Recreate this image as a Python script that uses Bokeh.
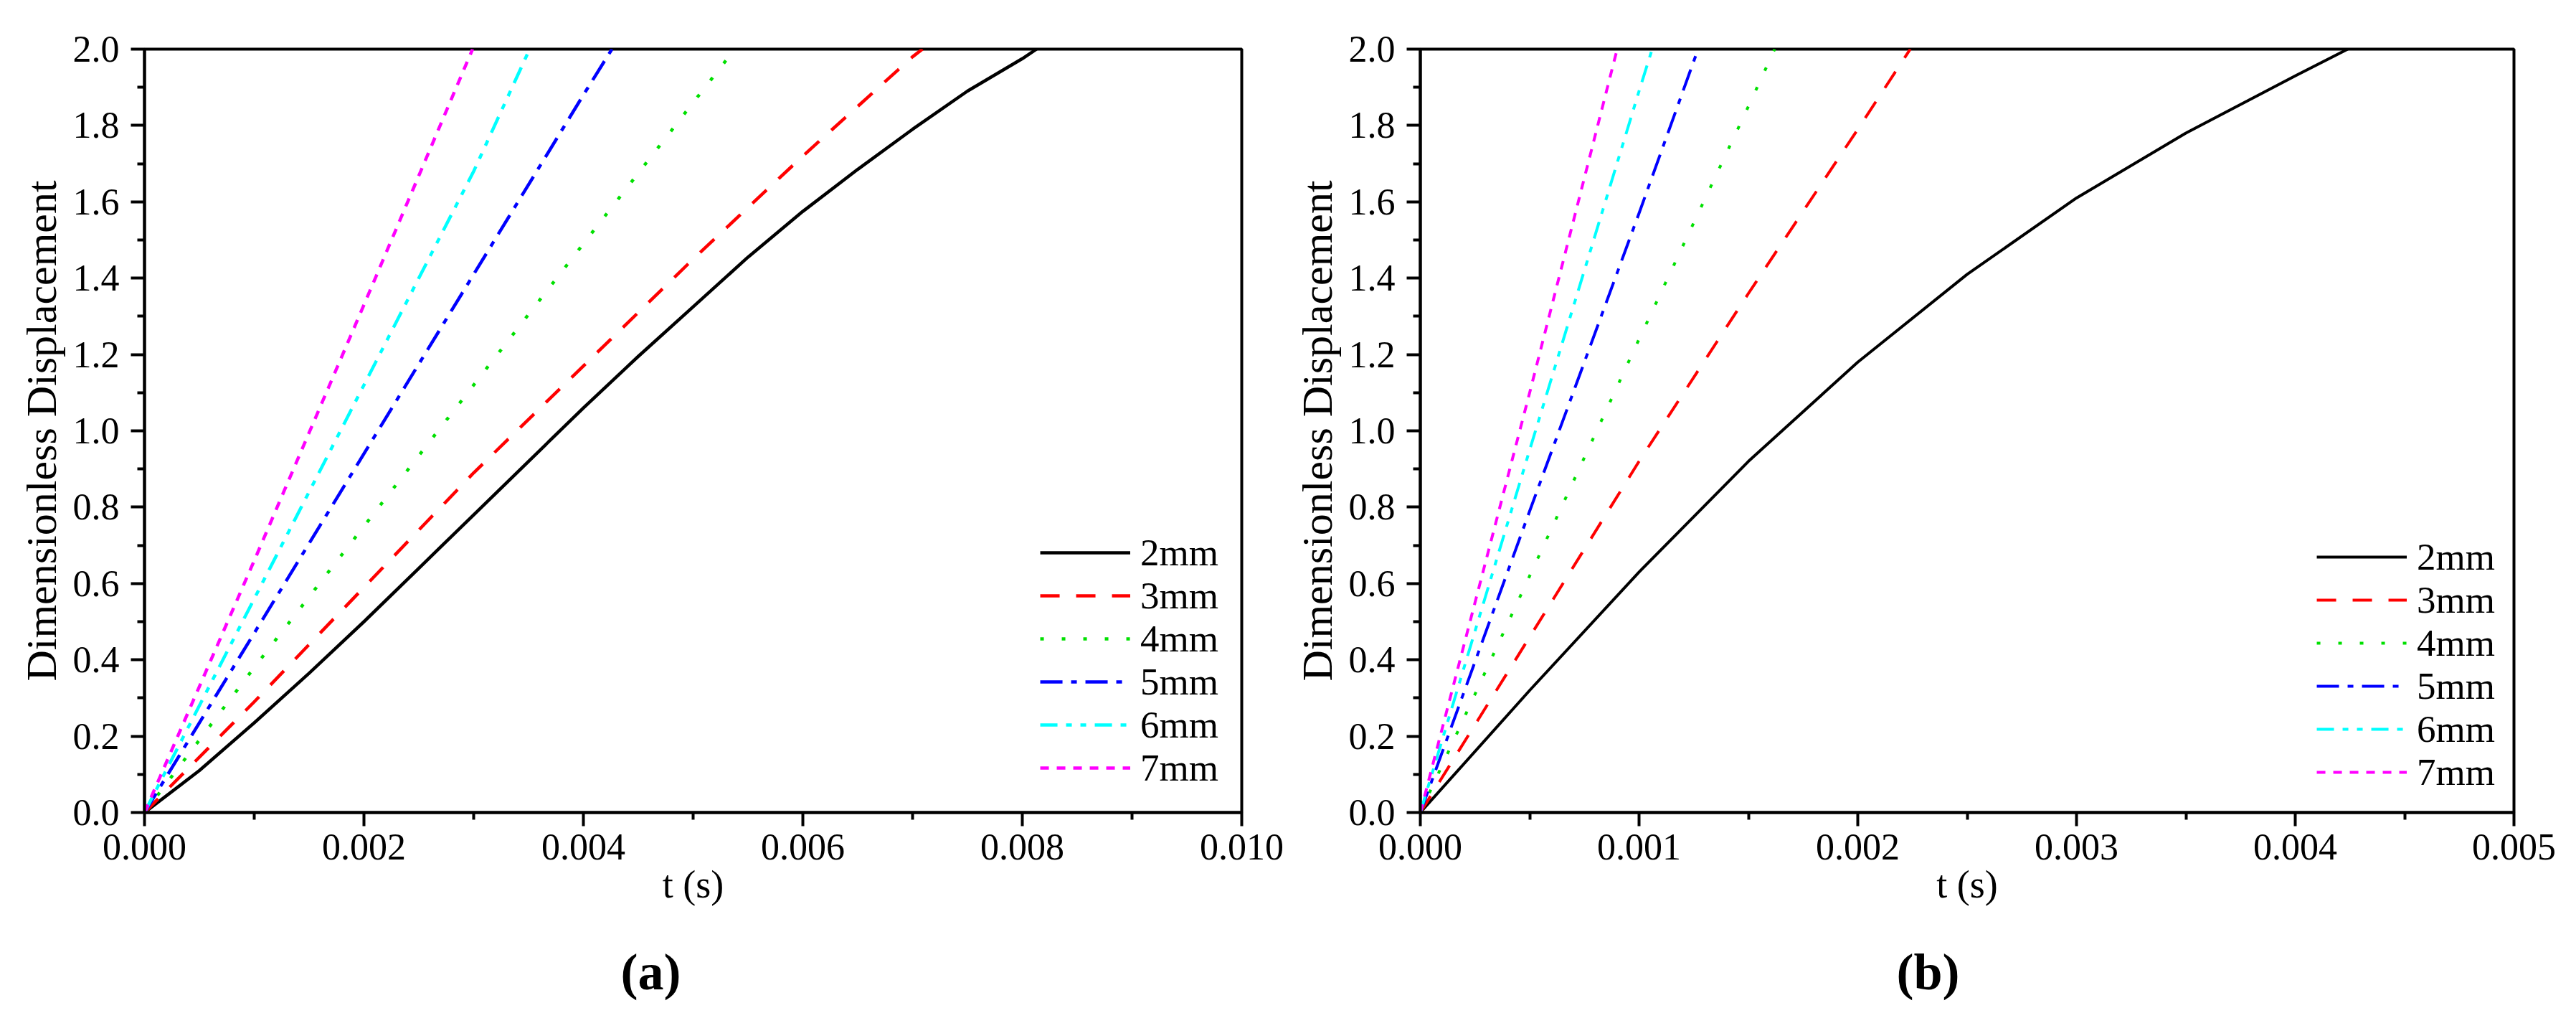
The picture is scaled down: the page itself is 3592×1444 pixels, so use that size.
from bokeh.plotting import figure
from bokeh.layouts import row
from bokeh.models import FixedTicker, NumeralTickFormatter, Range1d, Title
from bokeh.embed import file_html
from bokeh.resources import INLINE

# ---------------- data ----------------
series_names = ["2mm", "3mm", "4mm", "5mm", "6mm", "7mm"]
series_colors = ["#000000", "#ff0000", "#00e000", "#0000ff", "#00ffff", "#ff00ff"]
series_dashes = ["solid", "27 23", "5 25", "31 12 8 12", "24 12 8 12 8 12", "12 11"]

# panel (a)
a_t_2mm = [0.0, 0.0005, 0.001, 0.0015, 0.002, 0.0025, 0.003, 0.0035, 0.004, 0.0045,
           0.005, 0.0055, 0.006, 0.0065, 0.007, 0.0075, 0.008, 0.00813]
a_y_2mm = [0.0, 0.11, 0.235, 0.365, 0.50, 0.64, 0.78, 0.92, 1.06, 1.195,
           1.325, 1.455, 1.575, 1.685, 1.79, 1.89, 1.975, 2.0]
a_t_3mm = [0.0, 0.001, 0.002, 0.003, 0.004, 0.005, 0.006, 0.007, 0.00709]
a_y_3mm = [0.0, 0.29, 0.59, 0.89, 1.17, 1.45, 1.72, 1.98, 2.0]
a_t_4mm = [0.0, 0.001, 0.002, 0.003, 0.004, 0.005, 0.00538]
a_y_4mm = [0.0, 0.38, 0.75, 1.12, 1.49, 1.86, 2.0]
a_t_5mm = [0.0, 0.001, 0.002, 0.003, 0.004, 0.00426]
a_y_5mm = [0.0, 0.47, 0.94, 1.41, 1.88, 2.0]
a_t_6mm = [0.0, 0.001, 0.002, 0.003, 0.00351]
a_y_6mm = [0.0, 0.56, 1.12, 1.68, 2.0]
a_t_7mm = [0.0, 0.001, 0.002, 0.00299]
a_y_7mm = [0.0, 0.66, 1.33, 2.0]

# panel (b)
b_t_2mm = [0.0, 0.0005, 0.001, 0.0015, 0.002, 0.0025, 0.003, 0.0035, 0.004, 0.00424]
b_y_2mm = [0.0, 0.32, 0.63, 0.92, 1.18, 1.41, 1.61, 1.78, 1.93, 2.0]
b_t_3mm = [0.0, 0.0005, 0.001, 0.0015, 0.002, 0.00224]
b_y_3mm = [0.0, 0.46, 0.92, 1.36, 1.79, 2.0]
b_t_4mm = [0.0, 0.0005, 0.001, 0.0015, 0.00162]
b_y_4mm = [0.0, 0.62, 1.24, 1.85, 2.0]
b_t_5mm = [0.0, 0.0005, 0.001, 0.00127]
b_y_5mm = [0.0, 0.79, 1.57, 2.0]
b_t_6mm = [0.0, 0.0005, 0.001, 0.00106]
b_y_6mm = [0.0, 0.95, 1.89, 2.0]
b_t_7mm = [0.0, 0.0005, 0.00090]
b_y_7mm = [0.0, 1.10, 2.0]

a_series = [(a_t_2mm, a_y_2mm), (a_t_3mm, a_y_3mm), (a_t_4mm, a_y_4mm),
            (a_t_5mm, a_y_5mm), (a_t_6mm, a_y_6mm), (a_t_7mm, a_y_7mm)]
b_series = [(b_t_2mm, b_y_2mm), (b_t_3mm, b_y_3mm), (b_t_4mm, b_y_4mm),
            (b_t_5mm, b_y_5mm), (b_t_6mm, b_y_6mm), (b_t_7mm, b_y_7mm)]

y_major = [0.0, 0.2, 0.4, 0.6, 0.8, 1.0, 1.2, 1.4, 1.6, 1.8, 2.0]
y_minor = [0.1, 0.3, 0.5, 0.7, 0.9, 1.1, 1.3, 1.5, 1.7, 1.9]
a_x_major = [0.0, 0.002, 0.004, 0.006, 0.008, 0.010]
a_x_minor = [0.001, 0.003, 0.005, 0.007, 0.009]
b_x_major = [0.0, 0.001, 0.002, 0.003, 0.004, 0.005]
b_x_minor = [0.0005, 0.0015, 0.0025, 0.0035, 0.0045]

x_label = "t (s)"
y_label = "Dimensionless Displacement"

FONT = "Liberation Serif"


def make_panel(series, x_end, x_major, x_minor, caption, borders, legend_margin, lw):
    bl, br, bt, bb = borders
    p = figure(width=1796, height=1444, output_backend="svg", toolbar_location=None,
               x_range=Range1d(0, x_end), y_range=Range1d(0, 2.0),
               min_border_left=bl, min_border_right=br,
               min_border_top=bt, min_border_bottom=bb)
    p.background_fill_color = "white"
    p.border_fill_color = "white"
    p.xgrid.visible = False
    p.ygrid.visible = False
    p.outline_line_color = "black"
    p.outline_line_width = 4

    for (t, y), name, col, dash in zip(series, series_names, series_colors, series_dashes):
        p.line(t, y, line_color=col, line_width=lw, line_dash=dash, legend_label=name,
               line_join="round")

    p.xaxis.ticker = FixedTicker(ticks=x_major, minor_ticks=x_minor)
    p.yaxis.ticker = FixedTicker(ticks=y_major, minor_ticks=y_minor)
    p.xaxis.formatter = NumeralTickFormatter(format="0.000")
    p.yaxis.formatter = NumeralTickFormatter(format="0.0")
    p.xaxis.axis_label = x_label
    p.yaxis.axis_label = y_label

    for ax in (p.xaxis[0], p.yaxis[0]):
        ax.axis_line_width = 4
        ax.axis_line_color = "black"
        ax.major_tick_line_width = 4
        ax.minor_tick_line_width = 4
        ax.major_tick_line_color = "black"
        ax.minor_tick_line_color = "black"
        ax.major_tick_out = 19
        ax.major_tick_in = 0
        ax.minor_tick_out = 10
        ax.minor_tick_in = 0
        ax.major_label_text_font = FONT
        ax.major_label_text_font_size = "52px"
        ax.major_label_text_color = "black"
        ax.axis_label_text_font = FONT
        ax.axis_label_text_font_size = "54px"
        ax.axis_label_text_font_style = "normal"
        ax.axis_label_text_color = "black"
    p.yaxis.axis_label_text_font_size = "60px"
    p.xaxis.major_label_standoff = 11
    p.xaxis.axis_label_standoff = 2
    p.yaxis.major_label_standoff = 16
    p.yaxis.axis_label_standoff = 8

    lg = p.legend[0]
    lg.location = "bottom_right"
    lg.margin = legend_margin
    lg.padding = 0
    lg.spacing = -5
    lg.glyph_width = 126
    lg.glyph_height = 50
    lg.label_height = 50
    lg.label_standoff = 14
    lg.label_text_font = FONT
    lg.label_text_font_size = "53px"
    lg.label_text_color = "black"
    lg.background_fill_alpha = 0
    lg.border_line_alpha = 0

    cap = Title(text=caption, align="left", offset=664, standoff=94,
                text_font=FONT, text_font_size="72px", text_font_style="bold",
                text_color="black")
    p.add_layout(cap, "below")
    return p


pa = make_panel(a_series, 0.010, a_x_major, a_x_minor, "(a)", (201, 65, 62, 312), 32, 4.5)
pb = make_panel(b_series, 0.005, b_x_major, b_x_minor, "(b)", (184, 87, 68, 311), 26, 4)

layout = row(pa, pb)
open("out.html", "w").write(file_html(layout, INLINE))
